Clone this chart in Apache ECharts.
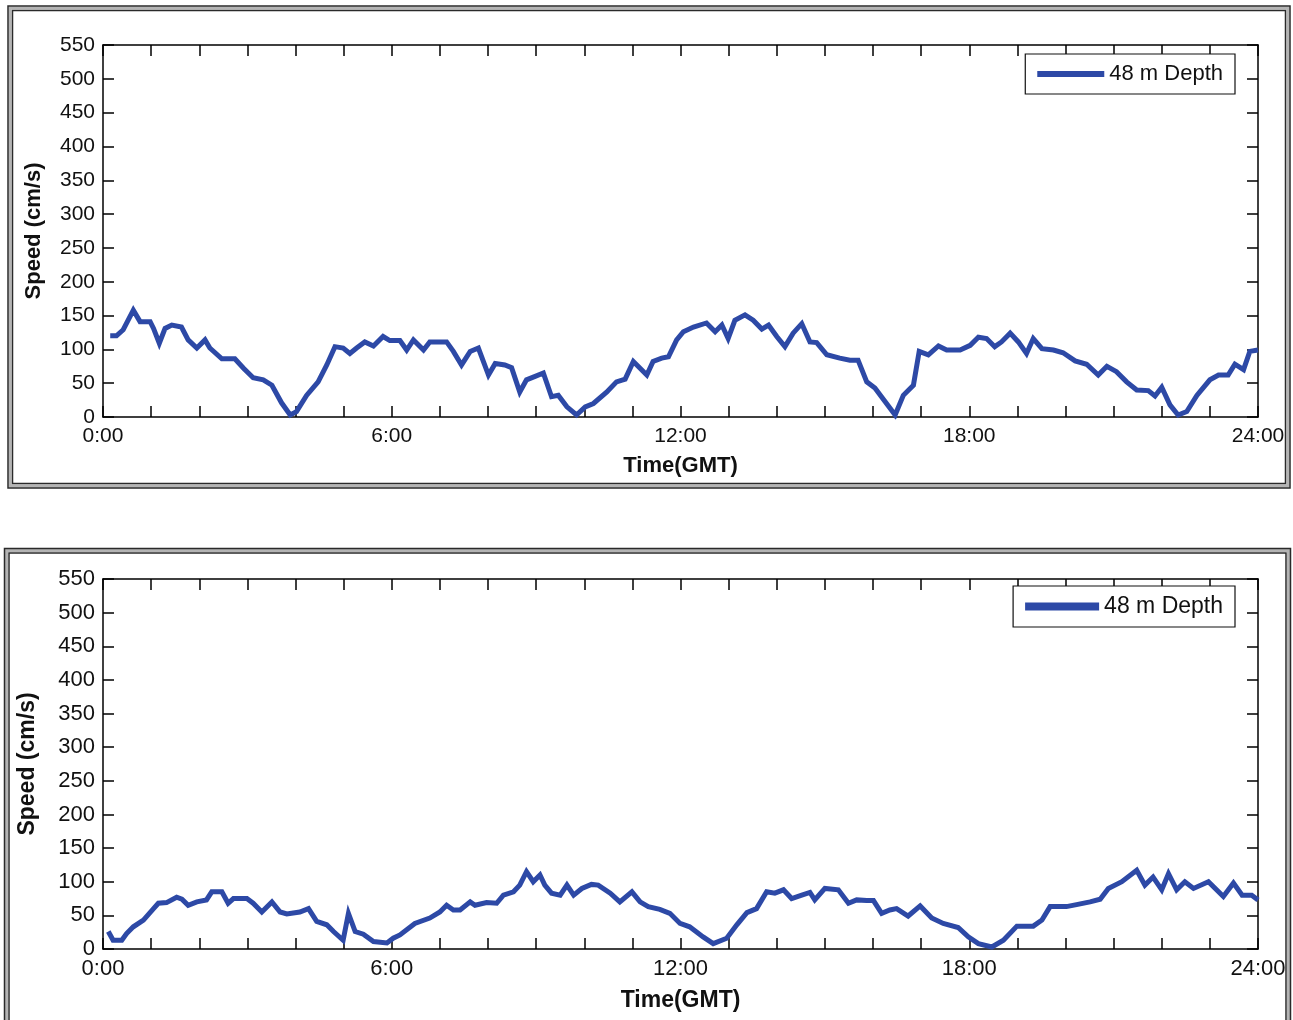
<!DOCTYPE html>
<html>
<head>
<meta charset="utf-8">
<script src="https://cdn.jsdelivr.net/npm/echarts@6/dist/echarts.min.js"></script>
<style>
html,body{margin:0;padding:0;background:#fff;}
#chart{width:1293px;height:1020px;}
</style>
</head>
<body>
<div id="chart"></div>
<script>
// ---- Data (hours since 0:00 GMT, speed in cm/s) ----
const seriesName = '48 m Depth';
const hourTicks = [0, 6, 12, 18, 24];
const speedTicks = [0, 50, 100, 150, 200, 250, 300, 350, 400, 450, 500, 550];

const topHours = [0.15,0.28,0.42,0.63,0.77,0.98,1.05,1.17,1.29,1.43,1.63,1.77,1.95,2.12,2.22,2.47,2.74,2.92,3.12,3.33,3.51,3.71,3.89,4.02,4.23,4.47,4.65,4.82,4.99,5.13,5.27,5.44,5.62,5.82,5.96,6.17,6.31,6.45,6.66,6.79,7.14,7.28,7.45,7.63,7.80,8.01,8.15,8.35,8.49,8.66,8.80,8.98,9.15,9.32,9.46,9.64,9.84,10.02,10.19,10.47,10.67,10.85,11.02,11.16,11.30,11.43,11.61,11.75,11.92,12.06,12.27,12.54,12.72,12.86,12.99,13.13,13.34,13.51,13.69,13.83,14.00,14.17,14.34,14.52,14.69,14.83,15.04,15.31,15.52,15.69,15.87,16.04,16.25,16.46,16.63,16.84,16.96,17.15,17.36,17.53,17.81,18.02,18.19,18.36,18.53,18.67,18.85,19.02,19.19,19.33,19.51,19.75,19.95,20.20,20.44,20.68,20.86,21.06,21.27,21.48,21.72,21.86,22.00,22.17,22.34,22.52,22.73,23.00,23.18,23.38,23.52,23.70,23.83,24.00];
const topSpeed = [120,120,129,158,141,141,131,109,131,136,133,114,102,114,102,86,86,72,58,55,47,21,3,8,32,52,77,104,102,94,102,111,105,119,113,113,99,114,99,111,111,97,77,97,102,62,79,77,73,37,55,60,65,30,32,15,3,15,20,37,52,56,82,72,62,82,87,89,114,126,133,139,126,136,116,143,151,143,130,136,119,104,124,138,111,110,92,87,84,84,52,43,23,3,32,47,97,92,105,99,99,106,118,116,104,111,124,111,94,116,101,99,95,83,78,62,75,67,52,40,39,31,44,18,3,8,32,55,62,62,78,70,97,99];

const bottomHours = [0.11,0.21,0.39,0.49,0.63,0.84,1.05,1.15,1.32,1.53,1.64,1.77,1.95,2.15,2.26,2.47,2.60,2.71,2.99,3.12,3.30,3.51,3.68,3.82,4.09,4.27,4.44,4.65,4.79,4.99,5.10,5.24,5.41,5.62,5.90,6.03,6.17,6.48,6.79,7.00,7.14,7.28,7.42,7.63,7.73,7.97,8.18,8.32,8.53,8.66,8.80,8.94,9.08,9.18,9.32,9.50,9.64,9.78,9.95,10.15,10.29,10.54,10.74,10.99,11.16,11.33,11.57,11.78,11.99,12.19,12.47,12.68,12.96,13.17,13.38,13.58,13.79,13.96,14.14,14.31,14.52,14.69,14.79,15.00,15.28,15.49,15.66,15.87,16.01,16.18,16.35,16.49,16.73,16.98,17.22,17.46,17.77,17.98,18.19,18.47,18.71,18.99,19.33,19.51,19.68,20.02,20.23,20.51,20.72,20.89,21.17,21.48,21.65,21.82,22.00,22.14,22.31,22.48,22.66,22.97,23.28,23.49,23.67,23.87,24.00];
const bottomSpeed = [26,13,13,23,33,43,60,68,69,77,74,65,70,73,85,85,68,75,75,68,55,70,55,52,55,60,41,36,26,13,53,26,22,11,9,16,21,38,46,55,65,58,58,70,65,69,68,80,85,95,115,100,110,95,83,80,95,80,90,96,95,83,70,85,70,63,59,53,38,33,18,8,16,36,54,60,85,83,88,75,80,84,73,90,88,68,73,72,72,53,58,60,49,64,46,38,32,18,8,3,13,34,34,43,63,63,66,70,74,90,100,117,95,107,88,112,88,100,90,100,78,98,80,80,73];

// ---- Build options ----
const FONT = "'Liberation Sans', Arial, sans-serif";
const LINE_COLOR = '#2d49a6';
const pair = (xs, ys) => xs.map((x, i) => [x, ys[i]]);

const G = [
  {left: 103, top: 45, width: 1155, height: 372, tick: 21, name: 22, legendTop: 54, legendRight: 58, legendFont: 22, iconW: 67, iconH: 6, yGap: 58, xGap: 38},
  {left: 103, top: 579, width: 1155, height: 370, tick: 22, name: 23, legendTop: 586, legendRight: 58, legendFont: 23, iconW: 74, iconH: 8, yGap: 64, xGap: 40}
];

const grids = [], xAxes = [], yAxes = [], series = [], legends = [];
const datas = [pair(topHours, topSpeed), pair(bottomHours, bottomSpeed)];

G.forEach((g, i) => {
  grids.push({left: g.left, top: g.top, width: g.width, height: g.height, containLabel: false});
  const axLine = {show: true, onZero: false, lineStyle: {color: '#000', width: 1.5}};
  const tick = {show: true, inside: true, length: 11, lineStyle: {color: '#000', width: 1.5}};
  xAxes.push({
    type: 'value', gridIndex: i, position: 'bottom', min: 0, max: 24, interval: 1,
    axisLine: axLine, axisTick: tick, splitLine: {show: false},
    axisLabel: {show: true, margin: 9, color: '#111', fontFamily: FONT, fontSize: g.tick,
      formatter: v => hourTicks.indexOf(v) >= 0 ? v + ':00' : ''},
    name: 'Time(GMT)', nameLocation: 'middle', nameGap: g.xGap,
    nameTextStyle: {fontFamily: FONT, fontWeight: 'bold', fontSize: g.name, color: '#111'}
  });
  xAxes.push({
    type: 'value', gridIndex: i, position: 'top', min: 0, max: 24, interval: 1,
    axisLine: axLine, axisTick: tick, splitLine: {show: false}, axisLabel: {show: false}
  });
  yAxes.push({
    type: 'value', gridIndex: i, position: 'left', min: speedTicks[0], max: speedTicks[speedTicks.length - 1], interval: 50,
    axisLine: axLine, axisTick: tick, splitLine: {show: false},
    axisLabel: {show: true, margin: 8, color: '#111', fontFamily: FONT, fontSize: g.tick},
    name: 'Speed (cm/s)', nameLocation: 'middle', nameGap: g.yGap,
    nameTextStyle: {fontFamily: FONT, fontWeight: 'bold', fontSize: g.name, color: '#111'}
  });
  yAxes.push({
    type: 'value', gridIndex: i, position: 'right', min: 0, max: 550, interval: 50,
    axisLine: axLine, axisTick: tick, splitLine: {show: false}, axisLabel: {show: false}
  });
  series.push({
    name: seriesName, type: 'line', xAxisIndex: i * 2, yAxisIndex: i * 2,
    data: datas[i], showSymbol: false, symbol: 'none',
    lineStyle: {color: LINE_COLOR, width: 5, join: 'miter'}, itemStyle: {color: LINE_COLOR}
  });
  legends.push({
    top: g.legendTop, right: g.legendRight, orient: 'horizontal',
    data: [seriesName], icon: 'rect', itemWidth: g.iconW, itemHeight: g.iconH, itemGap: 8,
    padding: [9, 12, 9, 12], borderColor: '#111', borderWidth: 1.2, backgroundColor: '#fff',
    textStyle: {fontFamily: FONT, fontSize: g.legendFont, color: '#111'},
    selectedMode: false, z: 20
  });
});

function frame(x, y, w, h) {
  return [
    {type: 'rect', shape: {x: x, y: y, width: w, height: h}, style: {fill: null, stroke: '#b4b4b4', lineWidth: 3}, silent: true, z: 100},
    {type: 'rect', shape: {x: x - 2, y: y - 2, width: w + 4, height: h + 4}, style: {fill: null, stroke: '#2a2a2a', lineWidth: 1.5}, silent: true, z: 101},
    {type: 'rect', shape: {x: x + 2.5, y: y + 2.5, width: w - 5, height: h - 5}, style: {fill: null, stroke: '#2a2a2a', lineWidth: 1.5}, silent: true, z: 101}
  ];
}

const chart = echarts.init(document.getElementById('chart'), null, {renderer: 'canvas'});
chart.setOption({
  animation: false,
  backgroundColor: '#fff',
  grid: grids, xAxis: xAxes, yAxis: yAxes, series: series, legend: legends,
  graphic: {elements: [].concat(frame(10, 8, 1278, 478), frame(6.5, 550.5, 1282, 480))}
});
</script>
</body>
</html>
